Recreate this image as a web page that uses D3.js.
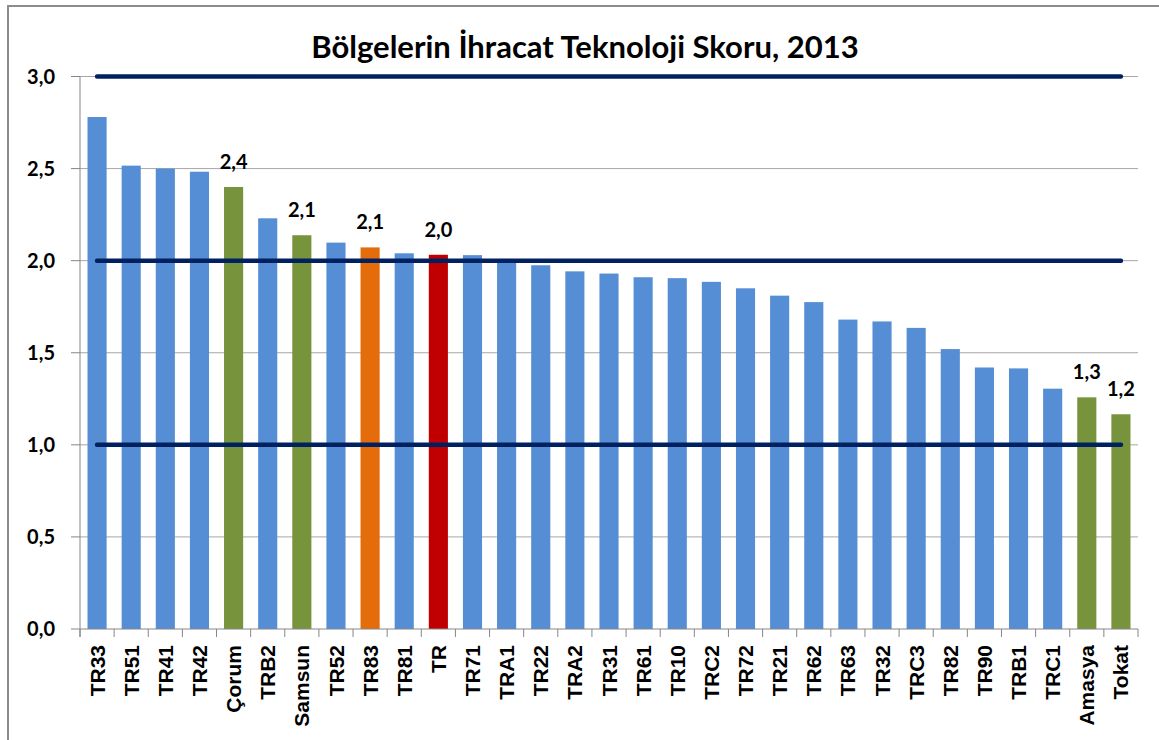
<!DOCTYPE html>
<html>
<head>
<meta charset="utf-8">
<script src="https://cdn.jsdelivr.net/npm/d3@7"></script>
<style>
  body { margin: 0; background: #fff; }
  .title { font-family: Lato, "Open Sans", sans-serif; font-weight: 700; font-size: 31px; fill: #000; }
  .ytick { font-family: Lato, sans-serif; font-weight: 700; font-size: 20px; fill: #000; }
  .xtick { font-family: "Liberation Sans", Arial, sans-serif; font-weight: 700; font-size: 21px; fill: #000; }
  .val { font-family: Lato, sans-serif; font-weight: 700; font-size: 20px; fill: #000; }
</style>
</head>
<body>
<div id="chart"></div>
<script>
// ---------- DATA ----------
const CATEGORIES = [
  "TR33", "TR51", "TR41", "TR42", "Çorum", "TRB2", "Samsun", "TR52", "TR83", "TR81",
  "TR", "TR71", "TRA1", "TR22", "TRA2", "TR31", "TR61", "TR10", "TRC2", "TR72",
  "TR21", "TR62", "TR63", "TR32", "TRC3", "TR82", "TR90", "TRB1", "TRC1", "Amasya", "Tokat"
];

const VALUES = [
  2.78, 2.516, 2.50, 2.483, 2.40, 2.23, 2.138, 2.098, 2.072, 2.04,
  2.032, 2.03, 2.00, 1.975, 1.942, 1.93, 1.91, 1.905, 1.885, 1.85,
  1.81, 1.775, 1.68, 1.67, 1.635, 1.52, 1.42, 1.415, 1.305, 1.258, 1.166
];

// which series each bar belongs to (drives the colour)
const GROUPS = [
  "region", "region", "region", "region", "province", "region", "province", "region", "tr83", "region",
  "tr", "region", "region", "region", "region", "region", "region", "region", "region", "region",
  "region", "region", "region", "region", "region", "region", "region", "region", "region", "province", "province"
];

// bars that carry a value label
const LABELED = ["Çorum", "Samsun", "TR83", "TR", "Amasya", "Tokat"];

// horizontal reference lines
const REF_LINES = [1, 2, 3];

const Y_TICKS = [0, 0.5, 1, 1.5, 2, 2.5, 3];

// ---------- SCAFFOLD ----------
const width = 1159, height = 740;
const margin = { top: 76.5, right: 21, bottom: 111, left: 80 };
const plotW = width - margin.left - margin.right;
const plotH = height - margin.top - margin.bottom;

const color = d3.scaleOrdinal()
  .domain(["region", "province", "tr83", "tr"])
  .range(["#558ed5", "#77933c", "#e46c0a", "#c00000"]);

const trLocale = d3.formatLocale({ decimal: ",", thousands: ".", grouping: [3], currency: ["", " TL"] });
const fmt = trLocale.format(".1f");

const svg = d3.select("#chart").append("svg")
  .attr("width", width)
  .attr("height", height);

// outer chart frame
svg.append("rect")
  .attr("x", 8).attr("y", 6)
  .attr("width", width + 20).attr("height", height + 20)
  .attr("fill", "#fff")
  .attr("stroke", "#8c8c8c")
  .attr("stroke-width", 2);

svg.append("text")
  .attr("class", "title")
  .attr("x", 585)
  .attr("y", 58)
  .attr("text-anchor", "middle")
  .text("Bölgelerin İhracat Teknoloji Skoru, 2013");

const g = svg.append("g")
  .attr("transform", `translate(${margin.left},${margin.top})`);

const x = d3.scaleBand()
  .domain(CATEGORIES)
  .range([0, plotW])
  .paddingInner(0.44)
  .paddingOuter(0.22);

const y = d3.scaleLinear()
  .domain([0, 3])
  .range([plotH, 0]);

const step = x.step();
const data = CATEGORIES.map((c, i) => ({ cat: c, value: VALUES[i], group: GROUPS[i] }));

// ---------- GRID ----------
g.selectAll(".grid")
  .data(Y_TICKS.filter(d => d > 0))
  .join("line")
  .attr("class", "grid")
  .attr("x1", 0).attr("x2", plotW)
  .attr("y1", d => y(d)).attr("y2", d => y(d))
  .attr("stroke", "#a6a6a6")
  .attr("stroke-width", 1);

// ---------- Y AXIS ----------
g.append("line")
  .attr("x1", 0).attr("x2", 0)
  .attr("y1", 0).attr("y2", plotH + 8)
  .attr("stroke", "#868686");

g.selectAll(".ytickmark")
  .data(Y_TICKS)
  .join("line")
  .attr("x1", -9).attr("x2", 0)
  .attr("y1", d => y(d)).attr("y2", d => y(d))
  .attr("stroke", "#868686");

g.selectAll(".ytick")
  .data(Y_TICKS)
  .join("text")
  .attr("class", "ytick")
  .attr("x", -25)
  .attr("y", d => y(d))
  .attr("dy", "0.35em")
  .attr("text-anchor", "end")
  .text(d => fmt(d));

// ---------- BARS ----------
g.selectAll(".bar")
  .data(data)
  .join("rect")
  .attr("class", "bar")
  .attr("x", d => x(d.cat))
  .attr("y", d => y(d.value))
  .attr("width", x.bandwidth())
  .attr("height", d => plotH - y(d.value))
  .attr("fill", d => color(d.group));

// ---------- X AXIS ----------
g.append("line")
  .attr("x1", 0).attr("x2", plotW)
  .attr("y1", plotH).attr("y2", plotH)
  .attr("stroke", "#868686");

g.selectAll(".xtickmark")
  .data(d3.range(CATEGORIES.length + 1))
  .join("line")
  .attr("x1", i => i * step).attr("x2", i => i * step)
  .attr("y1", plotH).attr("y2", plotH + 8)
  .attr("stroke", "#868686");

g.selectAll(".xtick")
  .data(CATEGORIES)
  .join("text")
  .attr("class", "xtick")
  .attr("text-anchor", "end")
  .attr("transform", d => `translate(${x(d) + x.bandwidth() / 2},${plotH + 16}) rotate(-90)`)
  .attr("dy", "0.36em")
  .text(d => d);

// ---------- REFERENCE LINES ----------
const first = CATEGORIES[0], last = CATEGORIES[CATEGORIES.length - 1];
g.selectAll(".ref")
  .data(REF_LINES)
  .join("line")
  .attr("class", "ref")
  .attr("x1", x(first) + x.bandwidth() / 2)
  .attr("x2", x(last) + x.bandwidth() / 2)
  .attr("y1", d => y(d)).attr("y2", d => y(d))
  .attr("stroke", "#002060")
  .attr("stroke-width", 4.5)
  .attr("stroke-linecap", "round");

// ---------- VALUE LABELS ----------
g.selectAll(".val")
  .data(data.filter(d => LABELED.includes(d.cat)))
  .join("text")
  .attr("class", "val")
  .attr("x", d => x(d.cat) + x.bandwidth() / 2)
  .attr("y", d => y(d.value) - 18)
  .attr("text-anchor", "middle")
  .text(d => fmt(d.value));
</script>
</body>
</html>
